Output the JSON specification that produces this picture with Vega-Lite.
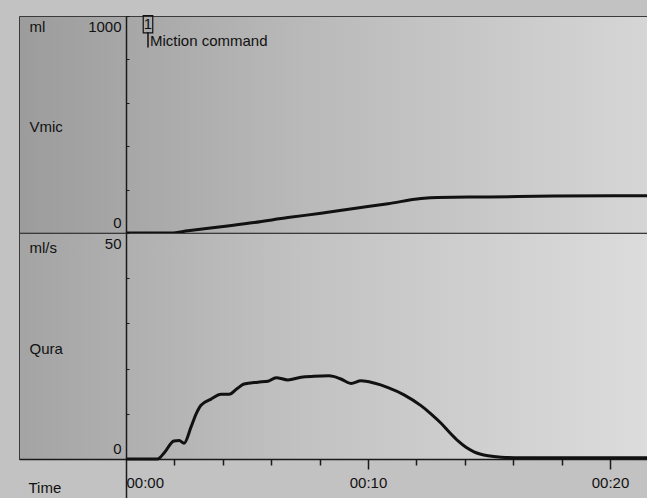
{
  "$schema": "https://vega.github.io/schema/vega-lite/v6.json",
  "padding": {"left": 18, "top": 12, "right": 0, "bottom": 0},
  "background": "#c2c2c2",
  "config": {
    "font": "Liberation Sans",
    "view": {"stroke": "#3a3a3a", "strokeWidth": 1},
    "axis": {
      "grid": false,
      "labelFont": "Liberation Sans",
      "labelFontSize": 15,
      "labelColor": "#111111",
      "titleFont": "Liberation Sans",
      "titleFontSize": 15,
      "titleFontWeight": "normal",
      "titleColor": "#111111",
      "domainColor": "#1a1a1a",
      "tickColor": "#1a1a1a"
    }
  },
  "datasets": {
    "vol": [
      {"t": 0, "v": 0}, {"t": 1.86, "v": 0}, {"t": 2.56, "v": 10}, {"t": 3.93, "v": 29},
      {"t": 5.29, "v": 48}, {"t": 6.69, "v": 71}, {"t": 8.06, "v": 91}, {"t": 9.42, "v": 113},
      {"t": 10.83, "v": 135}, {"t": 12.19, "v": 159}, {"t": 12.89, "v": 164}, {"t": 14.96, "v": 166},
      {"t": 17.69, "v": 170}, {"t": 21.6, "v": 172}
    ],
    "flow": [
      {"t": 0, "q": 0}, {"t": 1.3, "q": 0}, {"t": 1.6, "q": 1.5}, {"t": 1.98, "q": 4.0},
      {"t": 2.2, "q": 4.1}, {"t": 2.4, "q": 3.5}, {"t": 2.69, "q": 7.1}, {"t": 2.9, "q": 10.0},
      {"t": 3.1, "q": 11.9}, {"t": 3.5, "q": 13.2}, {"t": 3.93, "q": 14.3}, {"t": 4.26, "q": 14.3},
      {"t": 4.6, "q": 15.6}, {"t": 4.88, "q": 16.6}, {"t": 5.45, "q": 17.0}, {"t": 5.87, "q": 17.2},
      {"t": 6.2, "q": 18.0}, {"t": 6.69, "q": 17.5}, {"t": 7.23, "q": 18.1}, {"t": 7.77, "q": 18.3},
      {"t": 8.39, "q": 18.4}, {"t": 8.88, "q": 17.7}, {"t": 9.3, "q": 16.7}, {"t": 9.71, "q": 17.3},
      {"t": 10.25, "q": 16.8}, {"t": 10.83, "q": 15.8}, {"t": 11.49, "q": 14.2}, {"t": 12.19, "q": 11.8},
      {"t": 12.6, "q": 10.0}, {"t": 13.02, "q": 7.9}, {"t": 13.4, "q": 5.7}, {"t": 13.72, "q": 4.0},
      {"t": 14.05, "q": 2.6}, {"t": 14.38, "q": 1.6}, {"t": 14.96, "q": 0.7}, {"t": 15.5, "q": 0.4},
      {"t": 16.3, "q": 0.3}, {"t": 21.6, "q": 0.3}
    ],
    "events": [
      {"t": 0.91, "id": "1", "label": "Miction command"}
    ]
  },
  "bounds": "flush",
  "spacing": 0,
  "vconcat": [
    {
      "width": 629,
      "height": 217,
      "view": {
        "fill": {
          "gradient": "linear", "x1": 0, "y1": 0, "x2": 1, "y2": 0,
          "stops": [
            {"offset": 0, "color": "#9c9c9c"},
            {"offset": 0.45, "color": "#b9b9b9"},
            {"offset": 1, "color": "#d6d6d6"}
          ]
        }
      },
      "layer": [
        {
          "data": {"name": "vol"},
          "mark": {"type": "line", "color": "#111111", "strokeWidth": 3, "interpolate": "monotone"},
          "encoding": {
            "x": {
              "field": "t", "type": "quantitative",
              "scale": {"domain": [-4.42, 21.57], "nice": false, "zero": false},
              "axis": {"title": null, "labels": false, "ticks": false, "domain": true, "domainWidth": 1.5}
            },
            "y": {
              "field": "v", "type": "quantitative",
              "scale": {"domain": [0, 1000], "nice": false},
              "axis": {
                "title": ["ml", "Vmic"],
                "titleAngle": 0, "titleAlign": "left", "titleBaseline": "alphabetic",
                "titleLineHeight": 100, "titleX": -97, "titleY": 15,
                "offset": -107,
                "values": [0, 200, 400, 600, 800, 1000],
                "format": "d",
                "labelExpr": "datum.value == 0 || datum.value == 1000 ? datum.label : ''",
                "labelFlush": true, "labelFlushOffset": -3,
                "tickSize": -3, "labelPadding": 8,
                "domainWidth": 1.5
              }
            }
          }
        },
        {
          "data": {"name": "events"},
          "mark": {"type": "rule", "color": "#111111", "strokeWidth": 1.5},
          "encoding": {
            "x": {"field": "t", "type": "quantitative"},
            "y": {"datum": 925},
            "y2": {"datum": 855}
          }
        },
        {
          "data": {"name": "events"},
          "mark": {"type": "point", "shape": "M-0.55,-1L0.55,-1L0.55,1L-0.55,1Z", "size": 300, "filled": false, "stroke": "#111111", "strokeWidth": 1.2, "opacity": 1},
          "encoding": {
            "x": {"field": "t", "type": "quantitative"},
            "y": {"datum": 962}
          }
        },
        {
          "data": {"name": "events"},
          "mark": {"type": "text", "fontSize": 15, "align": "center", "baseline": "middle", "color": "#111111"},
          "encoding": {
            "x": {"field": "t", "type": "quantitative"},
            "y": {"datum": 962},
            "text": {"field": "id"}
          }
        },
        {
          "data": {"name": "events"},
          "mark": {"type": "text", "fontSize": 15, "align": "left", "baseline": "alphabetic", "dx": 2, "color": "#111111"},
          "encoding": {
            "x": {"field": "t", "type": "quantitative"},
            "y": {"datum": 862},
            "text": {"field": "label"}
          }
        }
      ]
    },
    {
      "width": 629,
      "height": 226,
      "view": {
        "fill": {
          "gradient": "linear", "x1": 0, "y1": 0, "x2": 1, "y2": 0,
          "stops": [
            {"offset": 0, "color": "#a4a4a4"},
            {"offset": 0.45, "color": "#c2c2c2"},
            {"offset": 1, "color": "#dcdcdc"}
          ]
        }
      },
      "data": {"name": "flow"},
      "mark": {"type": "line", "color": "#111111", "strokeWidth": 3, "interpolate": "monotone"},
      "encoding": {
        "x": {
          "field": "t", "type": "quantitative",
          "scale": {"domain": [-4.42, 21.57], "nice": false, "zero": false},
          "axis": {
            "title": "Time",
            "titleAlign": "left", "titleBaseline": "middle", "titleAnchor": "start",
            "titleX": 9, "titleY": 28,
            "values": [0, 2, 4, 6, 8, 10, 12, 14, 16, 18, 20],
            "labelExpr": "datum.value == 0 ? '00:00' : datum.value == 10 ? '00:10' : datum.value == 20 ? '00:20' : ''",
            "labelAlign": {"condition": {"test": "datum.value == 0", "value": "left"}, "value": "center"},
            "labelBaseline": "top",
            "labelPadding": {"condition": [{"test": "datum.value == 0", "value": -24}, {"test": "datum.value % 10 == 0", "value": 6}], "value": 8},
            "tickSize": {"condition": [{"test": "datum.value == 0", "value": 40}, {"test": "datum.value % 10 == 0", "value": 10}], "value": 6},
            "tickWidth": 1.5,
            "domainWidth": 1.5
          }
        },
        "y": {
          "field": "q", "type": "quantitative",
          "scale": {"domain": [0, 50], "nice": false},
          "axis": {
            "title": ["ml/s", "Qura"],
            "titleAngle": 0, "titleAlign": "left", "titleBaseline": "alphabetic",
            "titleLineHeight": 101, "titleX": -97, "titleY": 19,
            "offset": -107,
            "values": [0, 10, 20, 30, 40, 50],
            "labelExpr": "datum.value == 0 || datum.value == 50 ? datum.label : ''",
            "labelFlush": true, "labelFlushOffset": -3,
            "tickSize": -3, "labelPadding": 8,
            "domainWidth": 1.5
          }
        }
      }
    }
  ]
}
